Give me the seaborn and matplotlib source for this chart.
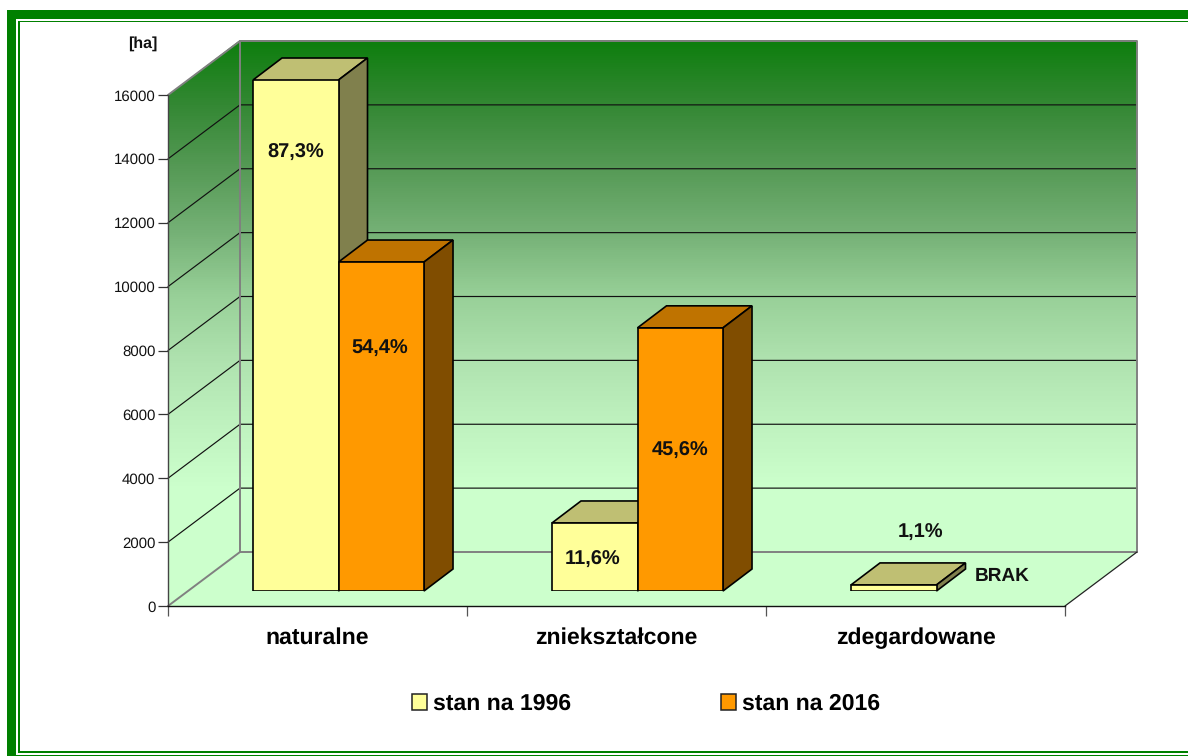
import numpy as np
import pandas as pd
import matplotlib
matplotlib.use('Agg')
import matplotlib.pyplot as plt
import matplotlib.patches as mpatches
from matplotlib.colors import LinearSegmentedColormap, to_rgb
import seaborn as sns

# data
categories = ['naturalne', 'zniekształcone', 'zdegardowane']
series_names = ['stan na 1996', 'stan na 2016']
values_1996 = [16000, 2130, 190]
values_2016 = [10300, 8240, 0]
labels_1996 = ['87,3%', '11,6%', '1,1%']
labels_2016 = ['54,4%', '45,6%', 'BRAK']
y_ticks = [0, 2000, 4000, 6000, 8000, 10000, 12000, 14000, 16000]

W, H = 1188, 756
# floor front edge and wall depth, in pixels of the reference
LEFT, RIGHT, Y0, Y16 = 168, 1065, 606, 95
WALL_DX, WALL_DY = 72, 54
BAR_SHIFT_X, BAR_SHIFT_Y = 21, 15
BAR_DX, BAR_DY = 29, 22

sns.set_theme(style='white')
plt.rcParams['font.family'] = ['Liberation Sans', 'DejaVu Sans']
plt.rcParams['text.hinting'] = 'none'
plt.rcParams['text.hinting_factor'] = 1

df = pd.DataFrame({
    'cat': categories * 2,
    'seria': series_names[0:1] * 3 + series_names[1:2] * 3,
    'ha': values_1996 + values_2016,
})

fig = plt.figure(figsize=(W / 100, H / 100), dpi=100, facecolor='white')

def box(l, r, top, bottom):
    return [l / W, 1 - bottom / H, (r - l) / W, (bottom - top) / H]

# frame around the whole picture
bg = fig.add_axes([0, 0, 1, 1])
bg.set_axis_off()
frame = '#008000'
bg.add_patch(mpatches.Rectangle((7, 10), W, 9, color=frame, lw=0))
bg.add_patch(mpatches.Rectangle((7, 10), 9, H, color=frame, lw=0))
bg.add_patch(mpatches.Rectangle((18, 20.5), W, 1.6, color=frame, lw=0))
bg.add_patch(mpatches.Rectangle((18, 20.5), 1.6, 731, color=frame, lw=0))
bg.add_patch(mpatches.Rectangle((18, 751), W, 1.6, color=frame, lw=0))
bg.add_patch(mpatches.Rectangle((16, 755), W, 1.6, color=frame, lw=0))

# walls: one vertical gradient in screen y, clipped to the two wall faces
back_top, back_bot = Y16 - WALL_DY - 1, Y0 - WALL_DY
grad_y = [40, 104, 168, 232, 296, 360, 424, 488, 606]
grad_c = ['#0e7e0e', '#348834', '#569a56', '#75b176', '#98d098', '#afe2af', '#bff2bf', '#ccffcc', '#ccffcc']
gmap = LinearSegmentedColormap.from_list('zielen', [((y - 40) / (606 - 40), c) for y, c in zip(grad_y, grad_c)])
grad = np.linspace(0, 1, 566).reshape(-1, 1)
im = bg.imshow(grad, cmap=gmap, aspect='auto', zorder=1, extent=(LEFT, RIGHT + WALL_DX, 606, 40))
wall = mpatches.Polygon([(LEFT, Y0), (LEFT, Y16), (LEFT + WALL_DX, back_top), (RIGHT + WALL_DX, back_top),
                         (RIGHT + WALL_DX, back_bot), (LEFT + WALL_DX, back_bot)],
                        closed=True, transform=bg.transData, fc='none', ec='none')
bg.add_patch(wall)
im.set_clip_path(wall)
bg.set_xlim(0, W)
bg.set_ylim(H, 0)
floor = [(LEFT, Y0), (RIGHT, Y0), (RIGHT + WALL_DX, back_bot), (LEFT + WALL_DX, back_bot)]
bg.add_patch(mpatches.Polygon(floor, closed=True, fc='#ccffcc', ec='none', zorder=1))

# grid lines on both walls
px_per = (Y0 - Y16) / 16000
for t in y_ticks[1:-1]:
    yf = Y0 - t * px_per
    bg.plot([LEFT, LEFT + WALL_DX, RIGHT + WALL_DX], [yf, yf - WALL_DY, yf - WALL_DY],
            color='#111111', lw=0.85, zorder=2, solid_joinstyle='miter')
grey = '#808080'
bg.plot([LEFT, LEFT + WALL_DX, LEFT + WALL_DX], [Y16, Y16 - WALL_DY, Y0 - WALL_DY], color=grey, lw=1.4, zorder=2)
bg.plot([LEFT, LEFT + WALL_DX, RIGHT + WALL_DX], [Y0, Y0 - WALL_DY, Y0 - WALL_DY], color=grey, lw=1.4, zorder=2)
bg.plot([LEFT + WALL_DX, RIGHT + WALL_DX, RIGHT + WALL_DX], [Y16 - WALL_DY, Y16 - WALL_DY, Y0 - WALL_DY],
        color=grey, lw=1.4, zorder=2)
bg.plot([RIGHT, RIGHT + WALL_DX], [Y0, Y0 - WALL_DY], color='#222222', lw=0.9, zorder=2)

# front axis with the real ticks
ax = fig.add_axes(box(LEFT, RIGHT, Y16, Y0), facecolor='none')
ax.set_xlim(0, 3)
ax.set_ylim(0, 16000)
ax.set_yticks(y_ticks)
ax.set_xticks([0, 1, 2, 3])
ax.set_xticklabels([])
ax.tick_params(axis='y', length=7, width=0.9, color='#333333', labelsize=10.8, labelcolor='#111111', pad=2, left=True)
ax.tick_params(axis='x', length=7, width=0.9, color='#555555', direction='out', bottom=True)
for s in ['top', 'right']:
    ax.spines[s].set_visible(False)
ax.spines['left'].set_color('#444444')
ax.spines['bottom'].set_color('#111111')
ax.spines['left'].set_linewidth(1)
ax.spines['bottom'].set_linewidth(1)
for i, c in enumerate(categories):
    ax.text(i + 0.5, -0.0625, c, transform=ax.get_xaxis_transform(), ha='center', va='center',
            fontsize=16.5, fontweight='bold', color='black')
ax.text(143, 44, '[ha]', transform=bg.transData, ha='center', va='center',
        fontsize=11.8, fontweight='bold', color='#111111')

# bars on a plane shifted into the depth
ax_b = fig.add_axes(box(LEFT + BAR_SHIFT_X, RIGHT + BAR_SHIFT_X, Y16 - BAR_SHIFT_Y, Y0 - BAR_SHIFT_Y), facecolor='none')
sns.barplot(data=df, x='cat', y='ha', hue='seria', order=categories, hue_order=series_names,
            palette=['#ffff99', '#ff9900'], width=0.572, gap=0, saturation=1,
            edgecolor='black', linewidth=1.2, legend=False, ax=ax_b)
ax_b.set_xlim(-0.5, 2.5)
ax_b.set_ylim(0, 16000)
ax_b.set_axis_off()

def shade(color, f):
    return tuple(v * f for v in to_rgb(color[:3]))

# top and side faces come from each bar the library drew
fig.canvas.draw()
for p in ax_b.patches:
    if p.get_height() <= 0:
        # BRAK: no bar at all, not even its outline
        p.set_visible(False)
        continue
    fc = p.get_facecolor()
    x0, y0 = ax_b.transData.transform((p.get_x(), 0))
    x1, y1 = ax_b.transData.transform((p.get_x() + p.get_width(), p.get_height()))
    yb, yt = H - y0, H - y1
    z = 3 if fc[2] > 0.3 else 4
    top = [(x0, yt), (x1, yt), (x1 + BAR_DX, yt - BAR_DY), (x0 + BAR_DX, yt - BAR_DY)]
    side = [(x1, yt), (x1 + BAR_DX, yt - BAR_DY), (x1 + BAR_DX, yb - BAR_DY), (x1, yb)]
    bg.add_patch(mpatches.Polygon(top, closed=True, fc=shade(fc, 0.75), ec='black', lw=1.2, zorder=z))
    bg.add_patch(mpatches.Polygon(side, closed=True, fc=shade(fc, 0.5), ec='black', lw=1.2, zorder=z))

# percent labels
label_xy = [(296, 152.5), (593, 560), (921, 533), (380, 348.5), (680, 451), (1002, 576)]
for txt, (lx, ly) in zip(labels_1996 + labels_2016, label_xy):
    fs = 14.5 if txt != 'BRAK' else 14
    ax_b.text(lx, ly, txt, transform=bg.transData, ha='center', va='center', fontsize=fs,
              fontweight='bold', color='#111111', zorder=6)

# legend
leg = [mpatches.Patch(facecolor=c, edgecolor='#222222', linewidth=1.1, label=n)
       for c, n in zip(['#ffff99', '#ff9900'], series_names)]
fig.legend(handles=leg, loc='center', bbox_to_anchor=(646 / W, 1 - 704 / H), ncol=2, frameon=False,
           prop={'size': 16.3, 'weight': 'bold'}, labelcolor='black', handlelength=0.67, handleheight=0.7,
           handletextpad=0.25, columnspacing=6.65, borderpad=0)

fig.savefig('out.png', dpi=100, facecolor='white')
